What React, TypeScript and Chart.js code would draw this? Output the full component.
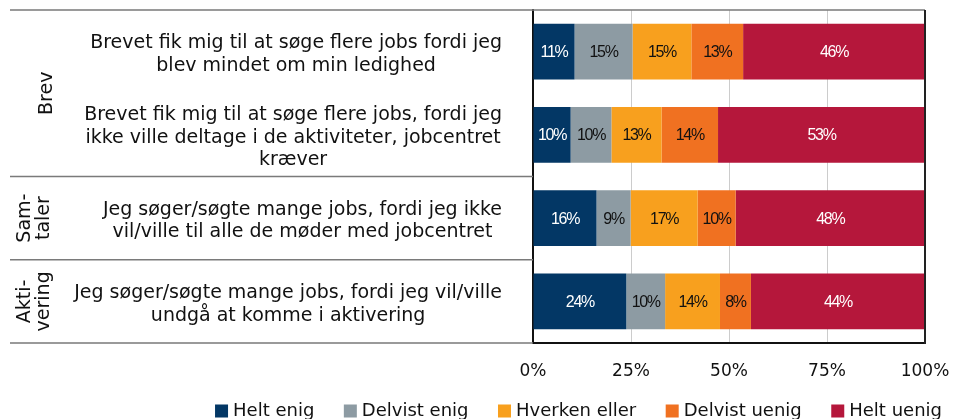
import React, { useEffect, useRef } from "react";
import { Chart, registerables } from "chart.js";

Chart.register(...registerables);

const categories: string[][] = [
  ["Brevet fik mig til at søge flere jobs fordi jeg", "blev mindet om min ledighed"],
  ["Brevet fik mig til at søge flere jobs, fordi jeg", "ikke ville deltage i de aktiviteter, jobcentret", "kræver"],
  ["Jeg søger/søgte mange jobs, fordi jeg ikke", "vil/ville til alle de møder med jobcentret"],
  ["Jeg søger/søgte mange jobs, fordi jeg vil/ville", "undgå at komme i aktivering"],
];

const groupNames: string[][] = [["Brev"], ["Sam-", "taler"], ["Akti-", "vering"]];
const groupFirst: number[] = [0, 2, 3];
const groupLast: number[] = [1, 2, 3];

const seriesNames = ["Helt enig", "Delvist enig", "Hverken eller", "Delvist uenig", "Helt uenig"];
const heltEnig = [10.6, 9.6, 16.2, 23.8];
const delvistEnig = [14.8, 10.4, 8.7, 9.9];
const hverkenEller = [15.0, 12.8, 17.1, 14.0];
const delvistUenig = [13.2, 14.4, 9.7, 7.9];
const heltUenig = [46.4, 52.8, 48.3, 44.4];

const seriesColors = ["#033765", "#8D9BA3", "#F8A01E", "#F07121", "#B5173B"];
const labelColors = ["#ffffff", "#111111", "#111111", "#111111", "#ffffff"];

const xTicks = [0, 25, 50, 75, 100];

const FONT = "'DejaVu Sans', Verdana, sans-serif";

export default function App() {
  const ref = useRef<HTMLCanvasElement | null>(null);

  useEffect(() => {
    if (!ref.current) return;
    const values = [heltEnig, delvistEnig, hverkenEller, delvistUenig, heltUenig];

    const dataLabels = {
      id: "dataLabels",
      afterDatasetsDraw(chart: any) {
        const ctx = chart.ctx;
        ctx.save();
        ctx.font = "16px 'Liberation Sans', Arial, sans-serif";
        ctx.textAlign = "center";
        ctx.textBaseline = "middle";
        try { (ctx as any).letterSpacing = "-1.3px"; } catch (e) {}
        chart.data.datasets.forEach((ds: any, di: number) => {
          const meta = chart.getDatasetMeta(di);
          meta.data.forEach((el: any, i: number) => {
            const v = ds.data[i];
            ctx.fillStyle = labelColors[di];
            ctx.fillText(Math.round(v) + "%", (el.x + el.base) / 2, el.y + 1);
          });
        });
        ctx.restore();
      },
    };

    const frame = {
      id: "frame",
      afterDraw(chart: any) {
        const ctx = chart.ctx;
        const { top, bottom, left, right } = chart.chartArea;
        const y = chart.scales.y;
        const band = (y.getPixelForValue(1) - y.getPixelForValue(0));
        ctx.save();
        ctx.strokeStyle = "#7a7a7a";
        ctx.lineWidth = 1.5;
        ctx.beginPath();
        ctx.moveTo(10, top);
        ctx.lineTo(right, top);
        for (let g = 1; g < groupFirst.length; g++) {
          const yy = y.getPixelForValue(groupFirst[g]) - band / 2;
          ctx.moveTo(10, yy);
          ctx.lineTo(left, yy);
        }
        ctx.moveTo(10, bottom);
        ctx.lineTo(left, bottom);
        ctx.stroke();
        ctx.strokeStyle = "#222";
        ctx.lineWidth = 2;
        ctx.beginPath();
        ctx.moveTo(right, top);
        ctx.lineTo(right, bottom + 1);
        ctx.stroke();

        // category labels: each block right-aligned, lines centred within block
        ctx.fillStyle = "#111";
        ctx.font = "19px " + FONT;
        ctx.textAlign = "center";
        ctx.textBaseline = "middle";
        const lineH = 22.5;
        const blockRight = left - 31;
        categories.forEach((lines, i) => {
          const w = Math.max(...lines.map((t) => ctx.measureText(t).width));
          const cx = blockRight - w / 2;
          const cy = y.getPixelForValue(i) + 3;
          lines.forEach((t, k) => {
            ctx.fillText(t, cx, cy + (k - (lines.length - 1) / 2) * lineH);
          });
        });

        // group labels
        ctx.font = "19px " + FONT;
        groupNames.forEach((lines, g) => {
          const y0 = y.getPixelForValue(groupFirst[g]) - band / 2;
          const y1 = y.getPixelForValue(groupLast[g]) + band / 2;
          const cy = (y0 + y1) / 2;
          const lh = 19;
          const cx = lines.length === 1 ? 47 : 34.5;
          lines.forEach((t, k) => {
            const x = cx + (k - (lines.length - 1) / 2) * lh;
            ctx.save();
            ctx.translate(x, cy);
            ctx.rotate(-Math.PI / 2);
            ctx.fillText(t, 0, 0);
            ctx.restore();
          });
        });

        // legend
        ctx.font = "18px " + FONT;
        ctx.textBaseline = "middle";
        ctx.textAlign = "left";
        const box = 13, gapBox = 5, gapItem = 29.5;
        const widths = seriesNames.map((n) => box + gapBox + ctx.measureText(n).width);
        const total = widths.reduce((a, b) => a + b, 0) + gapItem * (widths.length - 1);
        let x = 578.5 - total / 2;
        const ly = 411;
        seriesNames.forEach((n, i) => {
          ctx.fillStyle = seriesColors[i];
          ctx.fillRect(x, ly - box / 2, box, box);
          ctx.fillStyle = "#111";
          ctx.fillText(n, x + box + gapBox, ly);
          x += widths[i] + gapItem;
        });
        ctx.restore();
      },
    };

    const chart = new Chart(ref.current, {
      type: "bar",
      data: {
        labels: categories,
        datasets: seriesNames.map((n, i) => ({
          label: n,
          data: values[i],
          backgroundColor: seriesColors[i],
          borderWidth: 0,
          categoryPercentage: 0.67,
          barPercentage: 1,
        })),
      },
      options: {
        indexAxis: "y",
        animation: false,
        responsive: false,
        maintainAspectRatio: false,
        layout: { padding: { top: 10, right: 30, left: 0, bottom: 0 } },
        plugins: { legend: { display: false }, tooltip: { enabled: false } },
        scales: {
          x: {
            stacked: true,
            min: 0,
            max: 100,
            afterBuildTicks: (s: any) => { s.ticks = xTicks.map((v) => ({ value: v })); },
            afterFit: (s: any) => { s.height = 76; s.paddingLeft = 0; s.paddingRight = 0; },
            ticks: {
              callback: (v: any) => v + "%",
              color: "#111",
              font: { family: FONT, size: 17 },
              padding: 18,
              maxRotation: 0,
            },
            grid: {
              drawTicks: false,
              color: (c: any) => (c.tick && c.tick.value === 0 ? "rgba(0,0,0,0)" : "#cccccc"),
              lineWidth: 1,
            },
            border: { display: true, color: "#111", width: 2 },
          },
          y: {
            stacked: true,
            afterFit: (s: any) => { s.width = 533; s.paddingTop = 0; s.paddingBottom = 0; },
            ticks: { display: false },
            grid: { display: false, drawTicks: false },
            border: { display: true, color: "#111", width: 2 },
          },
        },
      },
      plugins: [dataLabels, frame],
    } as any);
    return () => chart.destroy();
  }, []);

  return (
    <div style={{ position: "fixed", left: 0, top: 0, width: 955, height: 419, background: "#fff" }}>
      <canvas ref={ref} width={955} height={419} style={{ width: 955, height: 419 }} />
    </div>
  );
}
